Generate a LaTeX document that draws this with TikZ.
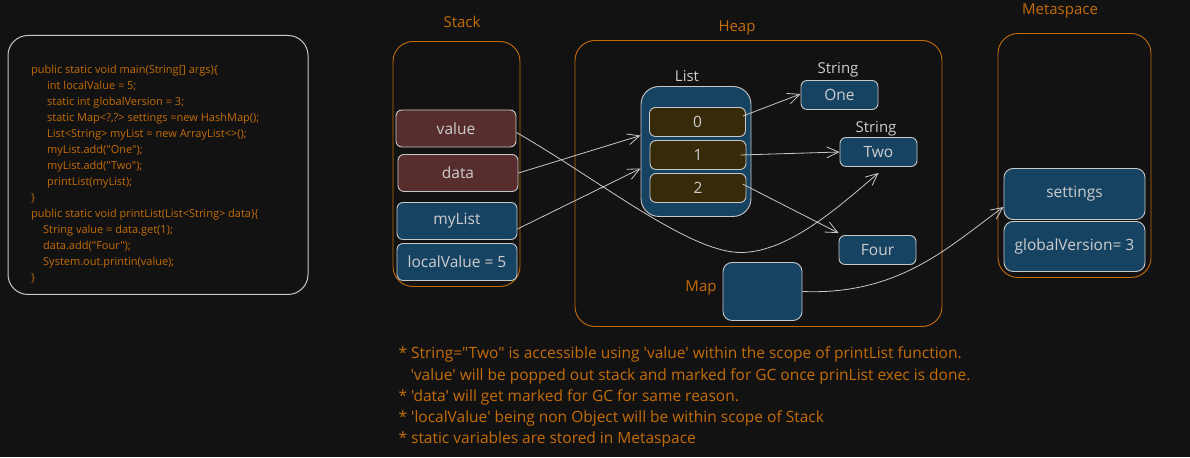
\documentclass[tikz,border=0pt]{standalone}
\usepackage{fontspec}
\setmainfont{Open Sans}[Ligatures=TeXOff]
\usetikzlibrary{arrows.meta}
\definecolor{bg}{RGB}{18,18,18}
\definecolor{rust}{RGB}{196,108,10}
\definecolor{edge}{RGB}{200,200,200}
\definecolor{ink}{RGB}{205,205,205}
\definecolor{objblue}{RGB}{23,67,98}
\definecolor{refred}{RGB}{88,45,45}
\definecolor{slot}{RGB}{54,42,8}

\begin{document}
\begin{tikzpicture}[x=1pt, y=-1pt,
    area/.style={draw=rust, line width=0.9pt, rounded corners=20pt, inner sep=0pt},
    title/.style={text=rust, font=\fontsize{15}{17}\selectfont},
    cell/.style={draw=edge, line width=0.9pt, rounded corners=6pt, inner sep=0pt,
      text=ink, font=\fontsize{15.5}{17}\selectfont, minimum width=120pt, minimum height=37pt},
    strobj/.style={cell, fill=objblue, minimum width=77pt, minimum height=29pt},
    idx/.style={cell, fill=slot, minimum width=96pt, minimum height=29pt},
    tag/.style={text=ink, font=\fontsize{15}{17}\selectfont},
    note/.style={text=rust, anchor=west, font=\fontsize{15.5}{17}\selectfont},
    link/.style={draw=edge, line width=0.8pt, -{Straight Barb[length=12pt,width=11pt,line width=0.8pt]}}]
  \fill[bg] (0,0) rectangle (1190,457);

  \node[draw=edge, line width=1pt, rounded corners=20pt, minimum width=300pt, minimum height=259pt] (code) at (158,164.5) {};
  \node[anchor=north west, text=rust, align=left, inner sep=0pt,
    font=\fontsize{11}{16}\selectfont] (src) at (31,64) {%
    public static void main(String[] args)\{\\
    \hspace*{16pt}int localValue = 5;\\
    \hspace*{16pt}static int globalVersion = 3;\\
    \hspace*{16pt}static Map<?,?> settings =new HashMap();\\
    \hspace*{16pt}List<String> myList = new ArrayList<>();\\
    \hspace*{16pt}myList.add("One");\\
    \hspace*{16pt}myList.add("Two");\\
    \hspace*{16pt}printList(myList);\\
    \}\\
    public static void printList(List<String> data)\{\\
    \hspace*{12pt}String value = data.get(1);\\
    \hspace*{12pt}data.add("Four");\\
    \hspace*{12pt}System.out.printin(value);\\
    \}};

  \node[title] (stacklbl) at (462,21) {Stack};
  \node[area, minimum width=127pt, minimum height=245pt] (stack) at (456.5,163.5) {};
  \node[cell, fill=refred] (value) at (456,128) {value};
  \node[cell, fill=refred] (data) at (458,172.5) {data};
  \node[cell, fill=objblue] (mylist) at (457,220.5) {myList};
  \node[cell, fill=objblue] (local) at (457,261.5) {localValue = 5};

  \node[title] (heaplbl) at (737,27) {Heap};
  \node[area, minimum width=367pt, minimum height=286pt] (heap) at (758.5,183) {};
  \node[tag] (listlbl) at (687,76) {List};
  \node[draw=edge, line width=0.9pt, fill=objblue, rounded corners=18pt, minimum width=110pt, minimum height=130pt] (list) at (696,151) {};
  \node[idx] (i0) at (697.5,121.5) {0};
  \node[idx] (i1) at (698,154.5) {1};
  \node[idx] (i2) at (698,187.5) {2};
  \node[tag] (str1) at (838,69) {String};
  \node[strobj] (one) at (839.5,94.5) {One};
  \node[tag] (str2) at (876,128) {String};
  \node[strobj] (two) at (878.5,151.5) {Two};
  \node[strobj] (four) at (877.5,249.5) {Four};
  \node[title] (maplbl) at (701,287) {Map};
  \node[cell, fill=objblue, minimum width=79pt, minimum height=58pt, rounded corners=9pt] (map) at (762.5,291) {};

  \node[title] (metalbl) at (1060,10) {Metaspace};
  \node[area, minimum width=153pt, minimum height=244pt] (meta) at (1074.5,155) {};
  \node[cell, fill=objblue, minimum width=141pt, minimum height=51pt, rounded corners=9pt] (settings) at (1074.5,193.5) {settings};
  \node[cell, fill=objblue, minimum width=141pt, minimum height=50pt, rounded corners=9pt] (gver) at (1074.5,246) {globalVersion= 3};

  \draw[link] (data.east) -- ([yshift=16pt]list.west);
  \draw[link] ([yshift=-8pt]mylist.east) -- ([yshift=-17pt]list.west);
  \draw[link] ([yshift=-4pt]value.east) .. controls (600,180) and (690,253) .. (742,252)
    .. controls (790,251) and (840,205) .. ([yshift=-6pt]two.south);
  \draw[link] ([yshift=6pt, xshift=-3pt]i0.east) -- ([yshift=1pt]one.west);
  \draw[link] ([xshift=-6pt]i1.east) -- (two.west);
  \draw[link] ([yshift=4pt, xshift=-4pt]i2.east) -- ([yshift=2pt]four.north west);
  \draw[link] (map.east) .. controls (900,295) and (950,245) .. ([yshift=-13pt]settings.west);

  \node[note] (n1) at (395,354) {* String="Two" is accessible using 'value' within the scope of printList function.};
  \node[note] (n2) at (407,376) {'value' will be popped out stack and marked for GC once prinList exec is done.};
  \node[note] (n3) at (395,397) {* 'data' will get marked for GC for same reason.};
  \node[note] (n4) at (395,418) {* 'localValue' being non Object will be within scope of Stack};
  \node[note] (n5) at (395,439) {* static variables are stored in Metaspace};
\end{tikzpicture}
\end{document}
